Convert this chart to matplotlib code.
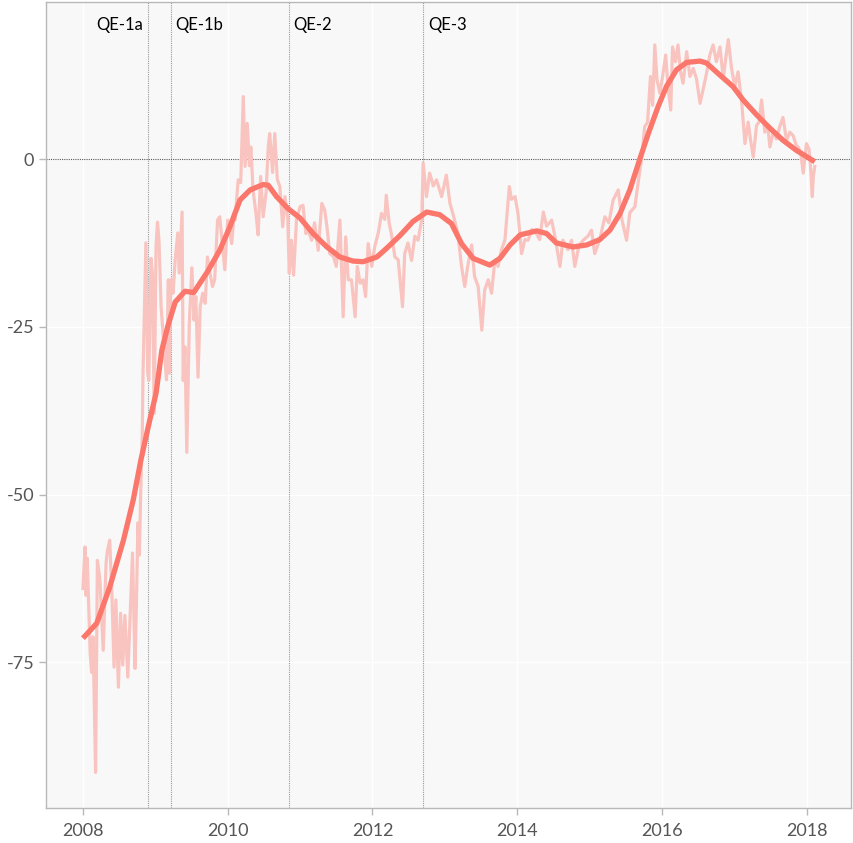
import matplotlib
matplotlib.use("Agg")
import matplotlib.pyplot as plt

plt.rcParams['font.family'] = ['Lato', 'DejaVu Sans']
plt.rcParams['axes.unicode_minus'] = False

# Noisy series (decimal year, value)
noisy_t = [2008.00, 2008.03, 2008.04, 2008.06, 2008.10, 2008.12, 2008.14, 2008.175, 2008.20, 2008.235,
           2008.28, 2008.32, 2008.335, 2008.37, 2008.40, 2008.43, 2008.455, 2008.49, 2008.52, 2008.55,
           2008.58, 2008.62, 2008.65, 2008.685, 2008.72, 2008.74, 2008.76, 2008.78, 2008.80, 2008.82,
           2008.83, 2008.87, 2008.895, 2008.91, 2008.94, 2008.96, 2008.985, 2009.01, 2009.03, 2009.05,
           2009.08, 2009.10, 2009.12, 2009.155, 2009.18, 2009.19, 2009.215, 2009.245, 2009.275, 2009.31,
           2009.33, 2009.37, 2009.385, 2009.41, 2009.435, 2009.47, 2009.505, 2009.535, 2009.56, 2009.59,
           2009.62, 2009.655, 2009.69, 2009.72, 2009.755, 2009.79, 2009.82, 2009.86, 2009.89, 2009.92,
           2009.96, 2010.00, 2010.055, 2010.09, 2010.10, 2010.145, 2010.18, 2010.215, 2010.24, 2010.27,
           2010.30, 2010.32, 2010.35, 2010.39, 2010.42, 2010.455, 2010.49, 2010.53, 2010.56, 2010.58,
           2010.62, 2010.65, 2010.685, 2010.72, 2010.76, 2010.79, 2010.83, 2010.85, 2010.88, 2010.91,
           2010.95, 2011.00, 2011.04, 2011.08, 2011.11, 2011.16, 2011.20, 2011.25, 2011.30, 2011.34,
           2011.37, 2011.41, 2011.46, 2011.50, 2011.55, 2011.595, 2011.63, 2011.665, 2011.71, 2011.76,
           2011.79, 2011.83, 2011.87, 2011.905, 2011.94, 2011.99, 2012.03, 2012.08, 2012.125, 2012.17,
           2012.19, 2012.23, 2012.26, 2012.31, 2012.355, 2012.415, 2012.445, 2012.49, 2012.54, 2012.585,
           2012.63, 2012.68, 2012.70, 2012.745, 2012.79, 2012.84, 2012.885, 2012.955, 2013.02, 2013.07,
           2013.12, 2013.18, 2013.23, 2013.275, 2013.315, 2013.37, 2013.41, 2013.46, 2013.51, 2013.55,
           2013.60, 2013.645, 2013.69, 2013.735, 2013.78, 2013.83, 2013.89, 2013.92, 2013.97, 2014.01,
           2014.06, 2014.105, 2014.15, 2014.20, 2014.265, 2014.31, 2014.36, 2014.405, 2014.475, 2014.52,
           2014.59, 2014.63, 2014.70, 2014.75, 2014.795, 2014.85, 2014.91, 2014.975, 2015.025, 2015.07,
           2015.14, 2015.21, 2015.265, 2015.325, 2015.395, 2015.445, 2015.51, 2015.555, 2015.625, 2015.67,
           2015.715, 2015.76, 2015.80, 2015.84, 2015.87, 2015.90, 2015.93, 2015.97, 2016.01, 2016.05,
           2016.08, 2016.12, 2016.145, 2016.185, 2016.22, 2016.255, 2016.29, 2016.34, 2016.385, 2016.43,
           2016.475, 2016.525, 2016.57, 2016.615, 2016.66, 2016.705, 2016.75, 2016.80, 2016.845, 2016.88,
           2016.915, 2016.96, 2017.005, 2017.05, 2017.10, 2017.145, 2017.19, 2017.22, 2017.26, 2017.305,
           2017.34, 2017.375, 2017.42, 2017.46, 2017.49, 2017.535, 2017.58, 2017.625, 2017.67, 2017.72,
           2017.765, 2017.81, 2017.855, 2017.88, 2017.915, 2017.95, 2017.995, 2018.03, 2018.05, 2018.075,
           2018.09, 2018.11]
noisy_v = [-64.0, -57.8, -65.0, -59.5, -73.6, -76.5, -71.2, -91.4, -59.8, -62.7,
           -73.2, -60.2, -58.6, -56.8, -64.7, -75.7, -65.7, -78.7, -67.7, -75.4,
           -68.0, -77.2, -68.7, -58.7, -75.9, -65.7, -54.2, -59.0, -49.0, -41.0,
           -31.9, -12.5, -31.9, -33.0, -14.8, -17.0, -37.9, -13.1, -9.4, -12.0,
           -22.0, -25.0, -28.0, -32.9, -18.0, -31.9, -18.0, -20.0, -15.0, -11.0,
           -17.0, -7.9, -33.0, -28.0, -43.7, -24.4, -16.2, -24.0, -20.5, -32.5,
           -22.0, -20.0, -21.5, -14.6, -17.0, -19.0, -18.0, -9.1, -8.6, -12.0,
           -16.5, -9.1, -12.6, -8.0, -9.1, -3.1, -3.5, 9.3, -1.1, 5.3,
           -1.0, 1.8, -4.6, -8.1, -11.3, -2.6, -8.6, -5.0, 1.8, 3.8,
           -2.0, 3.8, -3.0, -4.1, -10.1, -5.6, -9.0, -17.0, -12.1, -17.3,
           -9.1, -7.1, -6.9, -11.1, -10.5, -12.1, -9.5, -13.6, -6.6, -7.6,
           -10.0, -14.1, -14.5, -16.0, -9.1, -23.5, -11.6, -18.0, -18.0, -23.5,
           -16.0, -18.5, -18.0, -20.5, -12.6, -16.0, -13.1, -11.0, -8.1, -9.0,
           -5.4, -9.5, -11.1, -14.6, -15.0, -22.0, -14.1, -12.5, -15.1, -11.5,
           -12.1, -9.0, -0.6, -5.6, -2.1, -4.0, -3.1, -5.6, -2.4, -6.6,
           -8.5, -11.1, -16.0, -19.0, -16.0, -12.8, -17.5, -19.0, -25.5, -19.5,
           -18.0, -20.0, -15.1, -16.0, -13.6, -12.0, -4.1, -6.0, -5.6, -8.1,
           -14.1, -12.0, -12.1, -10.5, -11.1, -12.0, -7.9, -10.0, -9.1, -11.5,
           -16.0, -12.1, -13.5, -12.1, -16.0, -13.0, -12.1, -11.5, -10.6, -14.1,
           -12.0, -8.6, -9.5, -6.1, -4.6, -9.0, -12.1, -8.0, -7.1, -3.5,
           -0.1, 4.8, 5.5, 12.3, 8.0, 17.0, 11.8, 9.8, 12.5, 15.5,
           11.0, 7.3, 16.7, 14.5, 17.0, 13.0, 11.3, 16.0, 12.3, 13.5,
           12.0, 8.3, 10.5, 12.8, 15.5, 17.0, 14.5, 16.7, 12.0, 15.0,
           17.8, 13.5, 10.8, 13.0, 8.5, 2.3, 5.5, 3.0, 0.3, 5.0,
           5.5, 8.8, 4.0, 5.0, 1.8, 4.0, 3.0, 4.8, 6.2, 2.8,
           4.0, 3.5, 2.0, 1.8, 1.0, -2.1, 2.3, 1.5, -1.0, -5.6,
           -2.5, -1.1]

# Smoothed trend (decimal year, value)
trend_t = [2008.00, 2008.19, 2008.37, 2008.56, 2008.695, 2008.80, 2008.90, 2009.01, 2009.09, 2009.17,
           2009.275, 2009.41, 2009.53, 2009.72, 2009.89, 2010.03, 2010.17, 2010.31, 2010.49, 2010.56,
           2010.675, 2010.835, 2011.00, 2011.18, 2011.37, 2011.55, 2011.73, 2011.87, 2012.06, 2012.195,
           2012.38, 2012.56, 2012.75, 2012.93, 2013.09, 2013.23, 2013.39, 2013.62, 2013.76, 2013.90,
           2014.04, 2014.27, 2014.405, 2014.54, 2014.77, 2014.96, 2015.14, 2015.28, 2015.42, 2015.555,
           2015.69, 2015.81, 2015.945, 2016.06, 2016.20, 2016.34, 2016.525, 2016.615, 2016.80, 2016.98,
           2017.12, 2017.305, 2017.49, 2017.67, 2017.855, 2018.11]
trend_v = [-71.4, -69.2, -63.8, -56.8, -50.8, -44.9, -40.0, -34.9, -28.5, -25.0,
           -21.3, -19.7, -19.9, -16.8, -13.6, -10.1, -6.1, -4.6, -3.8, -3.9,
           -5.6, -7.4, -8.8, -11.1, -13.1, -14.6, -15.2, -15.3, -14.6, -13.3,
           -11.4, -9.3, -7.9, -8.3, -9.6, -12.6, -14.8, -15.8, -14.8, -12.8,
           -11.3, -10.7, -11.1, -12.5, -13.1, -12.8, -12.0, -10.6, -8.1, -4.6,
           -0.1, 3.8, 7.8, 10.8, 13.3, 14.4, 14.6, 14.3, 12.5, 10.8,
           8.8, 6.6, 4.6, 2.8, 1.3, -0.4]

qe_labels = ["QE-1a", "QE-1b", "QE-2", "QE-3"]
qe_dates = [2008.90, 2009.21, 2010.84, 2012.70]
qe_label_y = 20.0

x_ticks = [2008, 2010, 2012, 2014, 2016, 2018]
y_ticks = [0, -25, -50, -75]

fig = plt.figure(figsize=(8.54, 8.43), dpi=100)
ax = fig.add_axes([46/854, 1-808/843, (851-46)/854, (808-2)/843])
ax.set_facecolor('#f8f8f8')
ax.set_xlim(2007.49, 2018.61)
ax.set_ylim(-96.7, 23.4)

ax.set_xticks(x_ticks)
ax.set_xticklabels([str(t) for t in x_ticks])
ax.set_yticks(y_ticks)
ax.set_yticklabels([str(t) for t in y_ticks])
ax.grid(True, color='white', linewidth=1.0)
ax.set_axisbelow(True)

for s in ax.spines.values():
    s.set_color('#b8b8b8')
    s.set_linewidth(1.0)
ax.tick_params(colors='#b8b8b8', labelcolor='#555555', labelsize=13, length=5, width=1)
ax.tick_params(axis='x', pad=6)

for d in qe_dates:
    ax.axvline(d, color='#9a9a9a', linestyle=(0, (1, 1)), linewidth=0.8, zorder=1)
ax.axhline(0, color='#555555', linestyle=(0, (1, 1)), linewidth=0.8, zorder=1)

ax.plot(noisy_t, noisy_v, color='#f9c4bf', linewidth=2.3, zorder=2)
ax.plot(trend_t, trend_v, color='#fb766b', linewidth=3.8, zorder=3, solid_capstyle='butt')

for i, (lab, d) in enumerate(zip(qe_labels, qe_dates)):
    if i == 0:
        ax.annotate(lab, (d, qe_label_y), xytext=(-3.5, 0), textcoords='offset points',
                    ha='right', va='center', fontsize=12, color='black')
    else:
        ax.annotate(lab, (d, qe_label_y), xytext=(3.5, 0), textcoords='offset points',
                    ha='left', va='center', fontsize=12, color='black')

fig.savefig('out.png', dpi=100)
